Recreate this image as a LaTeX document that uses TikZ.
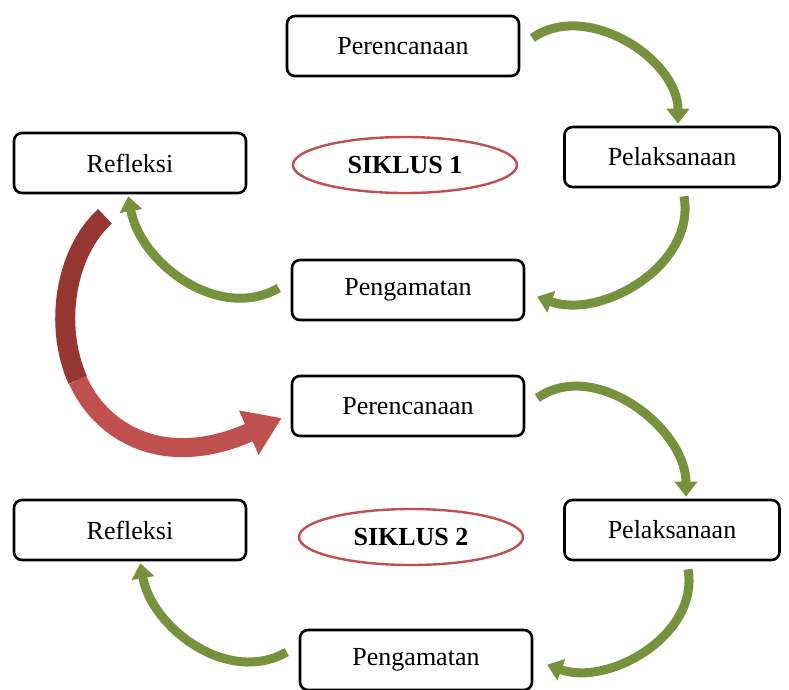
\documentclass[tikz,border=0pt]{standalone}
\usepackage{fontspec}
\setmainfont{Liberation Serif}
\usetikzlibrary{arrows.meta, shapes.geometric}

\definecolor{leafgreen}{RGB}{118,146,60}
\definecolor{darkred}{RGB}{150,55,52}
\definecolor{lightred}{RGB}{192,80,77}

\tikzset{
  stage/.style={draw, line width=2.6pt, rounded corners=8pt, fill=white,
    minimum width=232pt, minimum height=60pt, font=\fontsize{26}{30}\selectfont},
  cycle/.style={draw=lightred, line width=2.4pt, ellipse, minimum width=224pt,
    minimum height=56pt, font=\fontsize{26}{30}\selectfont\bfseries},
  garrow/.style={draw=leafgreen, line width=9pt,
    -{Triangle[width=22pt,length=15pt]}, shorten >=2pt},
}

\begin{document}
\begin{tikzpicture}[x=1pt, y=1pt]
\useasboundingbox (0,0) rectangle (789,-689);

% siklus 1
\node[stage] (plan1) at (403,-46) {Perencanaan};
\node[stage, minimum width=215pt] (act1) at (672,-157) {Pelaksanaan};
\node[stage] (refl1) at (130,-163) {Refleksi};
\node[stage] (obs1) at (408,-290) {Pengamatan};
\node[cycle] (cyc1) at (405,-165) {SIKLUS 1};

% siklus 2
\node[stage] (plan2) at (408,-406) {Perencanaan};
\node[stage, minimum width=215pt] (act2) at (672,-530) {Pelaksanaan};
\node[stage] (refl2) at (130,-530) {Refleksi};
\node[stage] (obs2) at (416,-660) {Pengamatan};
\node[cycle] (cyc2) at (411,-537) {SIKLUS 2};

% red arrow from siklus 1 to siklus 2
\coordinate (turn) at (77.75,-380);
\draw[darkred, line width=20pt] ([xshift=-25pt, yshift=-22pt]refl1.south)
  .. controls (65,-252.5) and (53.75,-326.25) .. (turn);
\draw[lightred, line width=19pt, -{Triangle[width=46pt,length=36pt]}]
  (turn) .. controls (101.75,-433.75) and (165,-470) .. ([xshift=-9pt, yshift=-12pt]plan2.west);

% green arrows
\draw[garrow] ([xshift=12pt, yshift=8pt]plan1.east) to[out=35, in=90] ([xshift=6pt]act1.north);
\draw[garrow] ([xshift=12pt, yshift=-8pt]act1.south) to[out=-80, in=-20] ([xshift=10pt, yshift=-6pt]obs1.east);
\draw[garrow] ([xshift=-12pt, yshift=2pt]obs1.west) to[out=-150, in=-80] ([xshift=-2pt]refl1.south);

\draw[garrow] ([xshift=12pt, yshift=8pt]plan2.east) to[out=35, in=90] ([xshift=14pt]act2.north);
\draw[garrow] ([xshift=16pt, yshift=-8pt]act2.south) to[out=-80, in=-20] ([xshift=12pt, yshift=-4pt]obs2.east);
\draw[garrow] ([xshift=-12pt, yshift=8pt]obs2.west) to[out=-150, in=-80] ([xshift=10pt]refl2.south);
\end{tikzpicture}
\end{document}
